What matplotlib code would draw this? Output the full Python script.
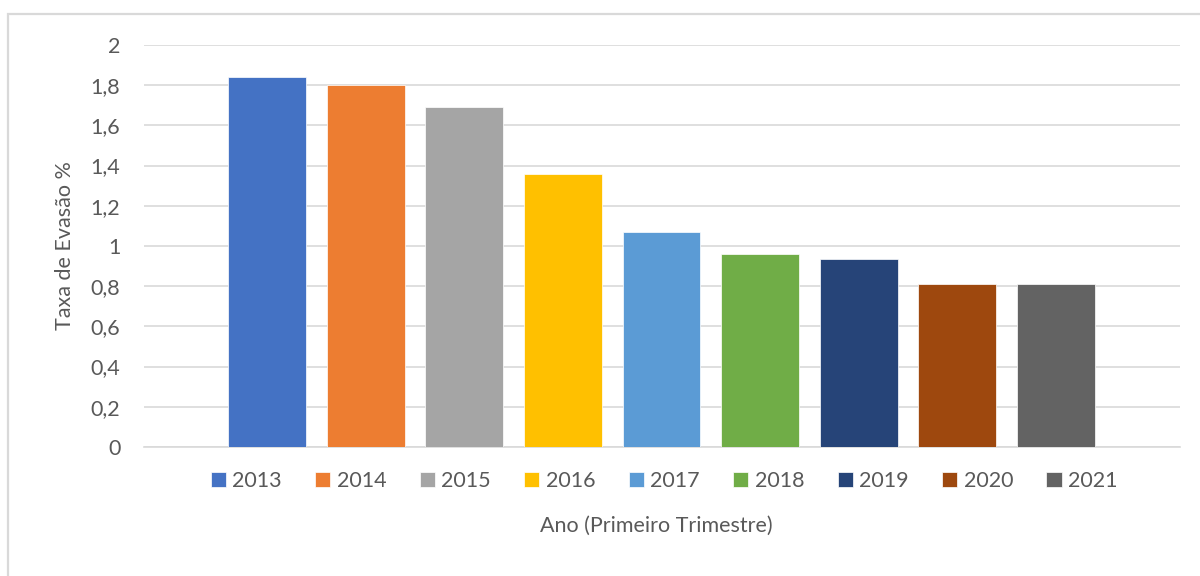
import matplotlib.pyplot as plt
from matplotlib.patches import Rectangle

years = ["2013", "2014", "2015", "2016", "2017", "2018", "2019", "2020", "2021"]
taxa = [1.84, 1.80, 1.69, 1.36, 1.07, 0.96, 0.935, 0.81, 0.81]
colors = ["#4472C4", "#ED7D31", "#A5A5A5", "#FFC000", "#5B9BD5",
          "#70AD47", "#264478", "#9E480E", "#636363"]
yticks = [0, 0.2, 0.4, 0.6, 0.8, 1.0, 1.2, 1.4, 1.6, 1.8, 2.0]
ytick_labels = ["0", "0,2", "0,4", "0,6", "0,8", "1", "1,2", "1,4", "1,6", "1,8", "2"]

plt.rcParams["font.family"] = ["Lato", "DejaVu Sans"]
text_color = "#595959"
grid_color = "#D9D9D9"

fig = plt.figure(figsize=(12, 5.76), dpi=100)
ax = fig.add_axes([0.12, 0.224, 0.8633, 0.698])

# outer chart frame (cut at right and bottom, as in the screenshot)
fig.patches.append(Rectangle((8 / 1200, -0.1), 1.2, (576 - 14) / 576 + 0.1,
                             transform=fig.transFigure, fill=False,
                             edgecolor=grid_color, linewidth=1.6))

for i, (year, val, c) in enumerate(zip(years, taxa, colors)):
    ax.bar(i, val, width=0.79, color=c, edgecolor="white", linewidth=0.5,
           label=year, zorder=3)

ax.set_xlim(-1.25, 9.26)
ax.set_ylim(0, 2)
ax.set_yticks(yticks)
ax.set_yticklabels(ytick_labels)
ax.set_xticks([])
ax.grid(axis="y", color=grid_color, linewidth=1.2, zorder=0)
ax.tick_params(axis="y", length=0, pad=17, labelsize=15.5, labelcolor=text_color)
for side in ["top", "right", "left"]:
    ax.spines[side].set_visible(False)
ax.spines["bottom"].set_color(grid_color)
ax.spines["bottom"].set_linewidth(1.2)

ax.set_ylabel("Taxa de Evasão %", fontsize=15.5, color=text_color, labelpad=11)
fig.text(0.547, 0.087, "Ano (Primeiro Trimestre)", ha="center", va="center",
         fontsize=15.5, color=text_color)

ax.legend(loc="center", bbox_to_anchor=(0.502, -0.085), ncol=9, frameon=False,
          fontsize=15.5, labelcolor=text_color, handlelength=0.7, handleheight=0.7,
          handletextpad=0.3, columnspacing=1.55)

fig.savefig("out.png", dpi=100)
